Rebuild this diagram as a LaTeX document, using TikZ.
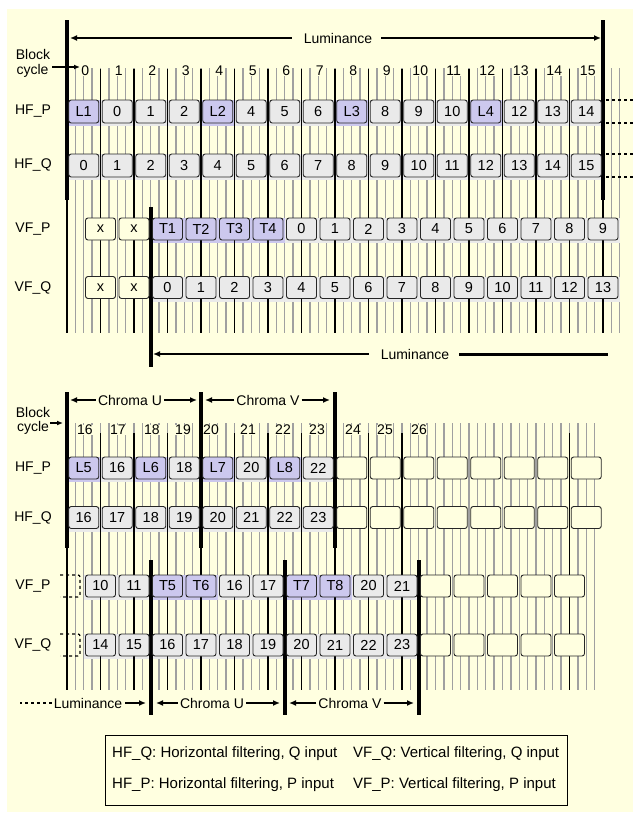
\documentclass[tikz,border=0pt]{standalone}
\usepackage{fontspec}
\setmainfont{Liberation Sans}
\usetikzlibrary{arrows.meta}
\definecolor{bgy}{RGB}{255,255,224}
\definecolor{lav}{RGB}{204,200,238}
\definecolor{gry}{RGB}{234,234,234}
\definecolor{gln}{RGB}{160,160,160}
\tikzset{
  cell/.style={draw=black!85, line width=0.9pt, rounded corners=2.5pt, minimum width=30pt, inner sep=0pt, font=\fontsize{14.5}{16}\selectfont},
  bandlav/.style={fill=lav}, bandgry/.style={fill=gry}, bandbgy/.style={},
  lbl/.style={font=\fontsize{14}{16}\selectfont, inner sep=0pt},
  leglbl/.style={font=\fontsize{15}{17}\selectfont, inner sep=0pt},
  gline/.style={draw=gln, line width=1.4pt},
  bline/.style={draw=black, line width=1.6pt},
  tline/.style={draw=black, line width=4.5pt},
  arr/.style={line width=1.8pt, -{Latex[length=7pt,width=6pt]}},
}
\newcommand\drawbands[4]{%
  \foreach \lab/\col [count=\i from 0] in #4 {
    \pgfmathsetmacro\cx{67+33.5*(\i+#1)}
    \path[band\col] (\cx-16.75,#2-#3/2) rectangle (\cx+16.75,#2+#3/2+3);
  }}
\newcommand\drawcells[5]{%
  \foreach \lab/\col [count=\i from 0] in #5 {
    \pgfmathsetmacro\cx{67+33.5*(\i+#2)}
    \node[cell, fill=\col, minimum height=#4pt] (#1\i) at (\cx,#3) {\lab};
  }}
\def\tHP{L1/lav,0/gry,1/gry,2/gry,L2/lav,4/gry,5/gry,6/gry,L3/lav,8/gry,9/gry,10/gry,L4/lav,12/gry,13/gry,14/gry}
\def\tHQ{0/gry,1/gry,2/gry,3/gry,4/gry,5/gry,6/gry,7/gry,8/gry,9/gry,10/gry,11/gry,12/gry,13/gry,14/gry,15/gry}
\def\tVP{x/bgy,x/bgy,T1/lav,T2/lav,T3/lav,T4/lav,0/gry,1/gry,2/gry,3/gry,4/gry,5/gry,6/gry,7/gry,8/gry,9/gry}
\def\tVQ{x/bgy,x/bgy,0/gry,1/gry,2/gry,3/gry,4/gry,5/gry,6/gry,7/gry,8/gry,9/gry,10/gry,11/gry,12/gry,13/gry}
\def\bHP{L5/lav,16/gry,L6/lav,18/gry,L7/lav,20/gry,L8/lav,22/gry,{}/bgy,{}/bgy,{}/bgy,{}/bgy,{}/bgy,{}/bgy,{}/bgy,{}/bgy}
\def\bHQ{16/gry,17/gry,18/gry,19/gry,20/gry,21/gry,22/gry,23/gry,{}/bgy,{}/bgy,{}/bgy,{}/bgy,{}/bgy,{}/bgy,{}/bgy,{}/bgy}
\def\bVP{10/gry,11/gry,T5/lav,T6/lav,16/gry,17/gry,T7/lav,T8/lav,20/gry,21/gry,{}/bgy,{}/bgy,{}/bgy,{}/bgy,{}/bgy}
\def\bVQ{14/gry,15/gry,16/gry,17/gry,18/gry,19/gry,20/gry,21/gry,22/gry,23/gry,{}/bgy,{}/bgy,{}/bgy,{}/bgy,{}/bgy}
\begin{document}
\begin{tikzpicture}[x=1pt,y=-1pt]
\useasboundingbox (0,0) rectangle (633,819);
\fill[bgy] (7,9) rectangle (633,812);
% gray grid lines
\foreach \k in {1,...,66} \draw[gline] ({67+8.375*\k},68) -- ({67+8.375*\k},333);
\foreach \k in {1,...,63} \draw[gline] ({67+8.375*\k},423) -- ({67+8.375*\k},690);
% row bands
\drawbands{0.5}{111.5}{23}{\tHP}
\drawbands{0.5}{165.5}{23}{\tHQ}
\drawbands{1}{229}{22}{\tVP}
\drawbands{1}{287.5}{22}{\tVQ}
\drawbands{0.5}{468}{22}{\bHP}
\drawbands{0.5}{517.5}{22}{\bHQ}
\drawbands{1}{586}{22}{\bVP}
\drawbands{1}{645}{22}{\bVQ}
% black cycle boundaries
\foreach \b in {0,...,16} \draw[bline] ({67+33.5*\b},69) -- ({67+33.5*\b},333);
\foreach \b in {0,1,2,3,4,5,6,7,8,9,10,15} \draw[bline] ({67+33.5*\b},433) -- ({67+33.5*\b},690);
% thick separators
\draw[tline] (67,20) -- (67,200);
\draw[tline] (603,20) -- (603,200);
\draw[tline] (150.75,207) -- (150.75,367);
\draw[tline] (67,392) -- (67,548);
\draw[tline] (201,392) -- (201,548);
\draw[tline] (335,392) -- (335,548);
\draw[tline] (150.75,560) -- (150.75,715);
\draw[tline] (284.75,560) -- (284.75,715);
\draw[tline] (418.75,560) -- (418.75,715);
% dashed continuations
\draw[dashed, line width=1.2pt] (606,100) -- (633,100);
\draw[dashed, line width=1.2pt] (606,123) -- (633,123);
\draw[dashed, line width=1.2pt] (606,154) -- (633,154);
\draw[dashed, line width=1.2pt] (606,177) -- (633,177);
\draw[dashed, line width=1.2pt, rounded corners=2pt] (60,575) -- (80,575) -- (80,597) -- (60,597);
\draw[dashed, line width=1.2pt, rounded corners=2pt] (60,634) -- (80,634) -- (80,656) -- (60,656);
% cells
\drawcells{tHP}{0.5}{111.5}{23}{\tHP}
\drawcells{tHQ}{0.5}{165.5}{23}{\tHQ}
\drawcells{tVP}{1}{229}{22}{\tVP}
\drawcells{tVQ}{1}{287.5}{22}{\tVQ}
\drawcells{bHP}{0.5}{468}{22}{\bHP}
\drawcells{bHQ}{0.5}{517.5}{22}{\bHQ}
\drawcells{bVP}{1}{586}{22}{\bVP}
\drawcells{bVQ}{1}{645}{22}{\bVQ}
% row labels
\node[lbl] (rl1) at (33,111.5) {HF\_P};
\node[lbl] (rl2) at (33,165.5) {HF\_Q};
\node[lbl] (rl3) at (33,229) {VF\_P};
\node[lbl] (rl4) at (33,287.5) {VF\_Q};
\node[lbl] (rl5) at (33,468) {HF\_P};
\node[lbl] (rl6) at (33,517.5) {HF\_Q};
\node[lbl] (rl7) at (33,586) {VF\_P};
\node[lbl] (rl8) at (33,645) {VF\_Q};
% block cycle labels
\node[lbl] (bk1) at (33,54) {Block};
\node[lbl] (cy1) at (32.5,71) {cycle};
\coordinate (cya1) at (52,67);
\coordinate (cyb1) at (80,67);
\draw[line width=1.5pt, -{Latex[length=6pt,width=5pt]}] (cya1) -- (cyb1);
\node[lbl] (bk2) at (33,412) {Block};
\node[lbl] (cy2) at (33,428) {cycle};
\coordinate (cya2) at (50,423);
\coordinate (cyb2) at (63,423);
\draw[line width=1.5pt, -{Latex[length=6pt,width=5pt]}] (cya2) -- (cyb2);
% cycle numbers
\foreach \i in {0,...,15} \node[lbl, fill=bgy, inner xsep=0.5pt] (c\i) at ({67+33.5*(\i+0.5)+1.5},71) {\i};
\foreach \x/\n in {85/16,118/17,152/18,183/19,211/20,248/21,283/22,317/23,353/24,385/25,419/26}
  \node[lbl, fill=bgy, inner xsep=0.5pt] (c\n) at (\x,430) {\n};
% luminance arrows (top)
\node[lbl] (lum1) at (338,38) {Luminance};
\coordinate (lum1L) at (70,38);
\coordinate (lum1R) at (601,38);
\draw[arr] ([xshift=-12pt]lum1.west) -- (lum1L);
\draw[arr] ([xshift=9pt]lum1.east) -- (lum1R);
\node[lbl] (lum2) at (415,354) {Luminance};
\coordinate (lum2L) at (153,354);
\coordinate (lum2R) at (608,354);
\draw[arr] ([xshift=-12pt]lum2.west) -- (lum2L);
\draw[line width=3pt] ([xshift=10pt]lum2.east) -- (lum2R);
% chroma arrows (upper part of lower section)
\node[lbl] (cu1) at (130,400) {Chroma U};
\coordinate (cu1L) at (70,400);
\coordinate (cu1R) at (197,400);
\draw[arr] ([xshift=-2pt]cu1.west) -- (cu1L);
\draw[arr] ([xshift=2pt]cu1.east) -- (cu1R);
\node[lbl] (cv1) at (268,400) {Chroma V};
\coordinate (cv1L) at (205,400);
\coordinate (cv1R) at (330,400);
\draw[arr] ([xshift=-2pt]cv1.west) -- (cv1L);
\draw[arr] ([xshift=2pt]cv1.east) -- (cv1R);
% bottom arrows
\node[lbl] (lum3) at (88,703) {Luminance};
\coordinate (lum3L) at (20,703);
\coordinate (lum3R) at (146,703);
\draw[dashed, line width=1.5pt] ([xshift=-2pt]lum3.west) -- (lum3L);
\draw[arr] ([xshift=3pt]lum3.east) -- (lum3R);
\node[lbl] (cu2) at (212,703) {Chroma U};
\coordinate (cu2L) at (156,703);
\coordinate (cu2R) at (280,703);
\draw[arr] ([xshift=-2pt]cu2.west) -- (cu2L);
\draw[arr] ([xshift=2pt]cu2.east) -- (cu2R);
\node[lbl] (cv2) at (350,703) {Chroma V};
\coordinate (cv2L) at (289,703);
\coordinate (cv2R) at (414,703);
\draw[arr] ([xshift=-2pt]cv2.west) -- (cv2L);
\draw[arr] ([xshift=2pt]cv2.east) -- (cv2R);
% legend
\node[draw, line width=1.2pt, minimum width=462pt, minimum height=70pt, anchor=north west, inner sep=0pt] (leg) at (105,735) {};
\node[leglbl, anchor=west] (lg1) at (112,754) {HF\_Q: Horizontal filtering, Q input};
\node[leglbl, anchor=west] (lg2) at (353,754) {VF\_Q: Vertical filtering, Q input};
\node[leglbl, anchor=west] (lg3) at (112,785) {HF\_P: Horizontal filtering, P input};
\node[leglbl, anchor=west] (lg4) at (353,785) {VF\_P: Vertical filtering, P input};
\end{tikzpicture}
\end{document}
